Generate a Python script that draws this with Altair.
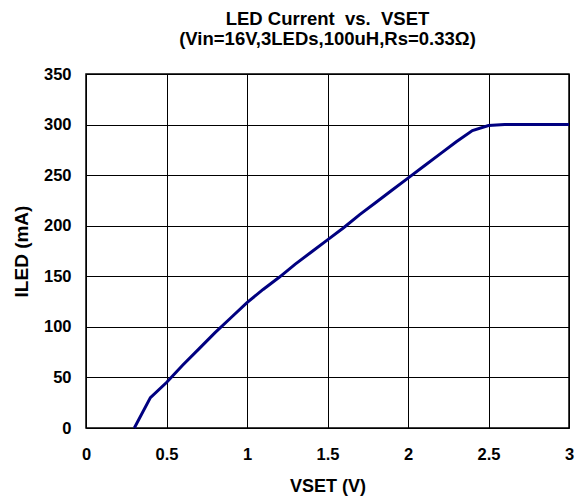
import altair as alt
import pandas as pd

vset = [0.3, 0.4, 0.5, 0.6, 0.7, 0.8, 0.9, 1.0, 1.1, 1.2, 1.3, 1.4, 1.5, 1.6, 1.7, 1.8, 1.9,
        2.0, 2.1, 2.2, 2.3, 2.4, 2.5, 2.6, 2.7, 2.8, 2.9, 3.0]
iled = [0, 30, 45, 62, 78, 94, 109, 124, 137, 149, 162, 174, 186, 198, 211, 223, 235,
        247, 259, 271, 283, 294, 299, 300, 300, 300, 300, 300]

title_lines = ["LED Current\u00a0\u00a0vs.\u00a0\u00a0VSET", "(Vin=16V,3LEDs,100uH,Rs=0.33\u03a9)"]
x_ticks = [0, 0.5, 1, 1.5, 2, 2.5, 3]
y_ticks = [0, 50, 100, 150, 200, 250, 300, 350]

df = pd.DataFrame({"vset": vset, "iled": iled})
FONT = "Liberation Sans"

chart = alt.Chart(df).mark_line(color="#000080", strokeWidth=3).encode(
    x=alt.X("vset:Q", scale=alt.Scale(domain=[0, 3], nice=False),
            axis=alt.Axis(values=x_ticks, title="VSET (V)", labelFlush=False, format="~g")),
    y=alt.Y("iled:Q", scale=alt.Scale(domain=[0, 350], nice=False),
            axis=alt.Axis(values=y_ticks, title="ILED (mA)", labelFlush=False)),
).properties(
    width=483, height=354,
    autosize=alt.AutoSizeParams(type="none"),
    padding={"left": 78, "top": 66, "right": 8, "bottom": 70},
    title=alt.TitleParams(text=title_lines, fontSize=18.5, font=FONT, fontWeight="bold",
                          color="black", lineHeight=20, anchor="middle",
                          baseline="alphabetic", offset=3),
).configure_view(stroke="black", strokeWidth=1.5).configure_axis(
    domain=False, ticks=False, grid=True, gridColor="black", gridOpacity=1, gridWidth=1,
    labelFont=FONT, labelFontSize=16.5, labelFontWeight="bold", labelColor="black",
    titleFont=FONT, titleFontWeight="bold", titleColor="black",
).configure_axisX(labelPadding=18, titlePadding=15, titleFontSize=18).configure_axisY(
    labelPadding=15, titlePadding=12, titleFontSize=19)

chart.save("out.html", embed_options={"renderer": "svg", "actions": False})
